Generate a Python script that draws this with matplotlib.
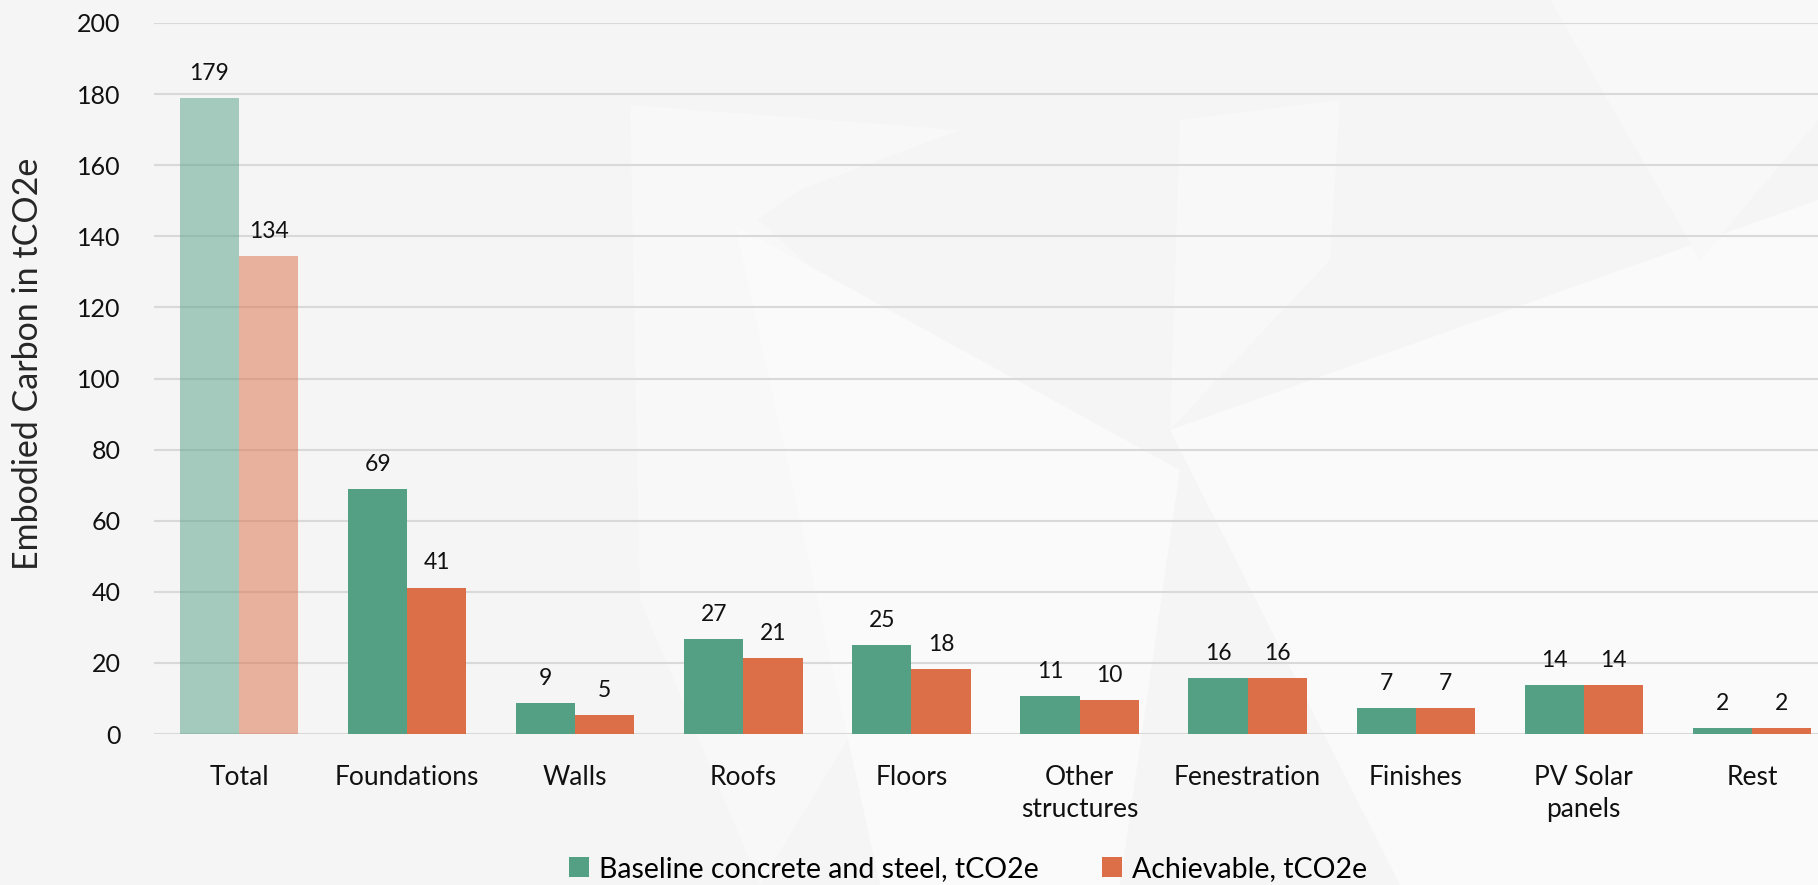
import matplotlib
matplotlib.use("Agg")
import matplotlib.pyplot as plt
import numpy as np
from matplotlib.patches import Polygon, Patch

categories = ["Total", "Foundations", "Walls", "Roofs", "Floors",
              "Other\nstructures", "Fenestration", "Finishes", "PV Solar\npanels", "Rest"]
baseline = [178.8, 68.8, 8.8, 26.8, 25.1, 10.7, 15.7, 7.2, 13.8, 1.6]
achievable = [134.4, 41.2, 5.3, 21.4, 18.3, 9.6, 15.7, 7.2, 13.8, 1.6]
baseline_labels = ["179", "69", "9", "27", "25", "11", "16", "7", "14", "2"]
achievable_labels = ["134", "41", "5", "21", "18", "10", "16", "7", "14", "2"]
yticks = [0, 20, 40, 60, 80, 100, 120, 140, 160, 180, 200]

W, H = 1818, 885
plt.rcParams['font.family'] = ['Lato', 'DejaVu Sans']
fig = plt.figure(figsize=(W / 100, H / 100), dpi=100)
bg = "#F5F5F5"
fig.patch.set_facecolor(bg)

# faint geometric background
bgax = fig.add_axes([0, 0, 1, 1], zorder=-10)
bgax.set_xlim(0, W); bgax.set_ylim(H, 0); bgax.axis('off')
shapes = [
    ([(630, 105), (960, 130), (800, 190), (700, 260)], "#F8F8F8"),
    ([(630, 105), (870, 320), (1010, 470), (760, 885), (640, 600)], "#F8F8F8"),
    ([(735, 225), (1180, 470), (1120, 885), (880, 885)], "#FAFAFA"),
    ([(1180, 120), (1340, 100), (1330, 260), (1170, 430)], "#F8F8F8"),
    ([(1170, 430), (1818, 200), (1818, 885), (1400, 885)], "#FAFAFA"),
    ([(1550, 0), (1818, 0), (1818, 120), (1700, 260)], "#F8F8F8"),
]
for pts, c in shapes:
    bgax.add_patch(Polygon(pts, closed=True, facecolor=c, edgecolor='none'))

left, right = 154 / W, 1.0
bottom, top = (H - 734) / H, (H - 23) / H
ax = fig.add_axes([left, bottom, right - left, top - bottom])
ax.patch.set_alpha(0)

x = np.arange(len(categories))
bw = 0.352
green = "#53A085"
orange = "#DC6F48"
for i in range(len(categories)):
    a = 0.5 if i == 0 else 1.0
    ax.bar(x[i] - bw / 2, baseline[i], bw, color=green, alpha=a, zorder=3, linewidth=0)
    ax.bar(x[i] + bw / 2, achievable[i], bw, color=orange, alpha=a, zorder=3, linewidth=0)
    ax.annotate(baseline_labels[i], (x[i] - bw / 2, baseline[i]), xytext=(0, 13),
                textcoords='offset points', ha='center', va='baseline', fontsize=16.5, color='#111111')
    ax.annotate(achievable_labels[i], (x[i] + bw / 2, achievable[i]), xytext=(0, 13),
                textcoords='offset points', ha='center', va='baseline', fontsize=16.5, color='#111111')

ax.set_xlim(-0.506, (1818 - 239) / 168.1)
ax.set_ylim(0, 200)
ax.set_yticks(yticks)
ax.set_yticklabels([str(t) for t in yticks], fontsize=18, color='#111111')
ax.set_xticks(x)
ax.set_xticklabels(categories, fontsize=19, color='#111111', linespacing=1.35)
ax.tick_params(axis='x', length=0, pad=22)
ax.tick_params(axis='y', length=0, pad=24)
ax.grid(axis='y', color='#D9D9D9', linewidth=1.5, zorder=0)
for s in ax.spines.values():
    s.set_visible(False)

fig.text(28 / W, 1 - 364 / H, "Embodied Carbon in tCO2e", rotation=90, ha='center', va='center',
         fontsize=24.5, color='#262626')

handles = [Patch(facecolor=green, label="Baseline concrete and steel, tCO2e"),
           Patch(facecolor=orange, label="Achievable, tCO2e")]
fig.legend(handles=handles, loc='center', bbox_to_anchor=(968 / W, 1 - 869 / H), ncol=2,
           frameon=False, fontsize=20.5, handlelength=0.7, handleheight=0.7,
           handletextpad=0.35, columnspacing=2.2, borderpad=0)

fig.savefig("out.png", dpi=100, facecolor=fig.get_facecolor())
